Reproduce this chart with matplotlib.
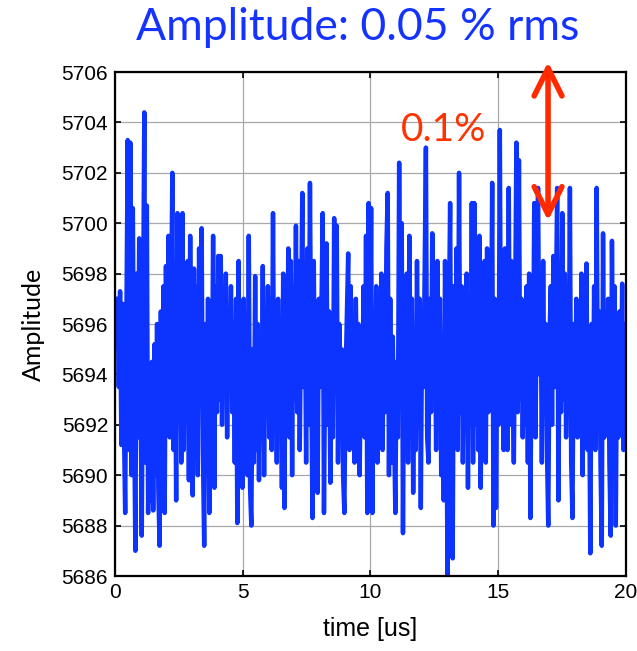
import matplotlib.pyplot as plt
import numpy as np

# 信号数据
amplitude = [
    5697.0, 5693.5, 5697.3, 5691.2, 5696.8, 5692.0, 5688.5, 5696.5, 5703.3, 5691.0,
    5703.2, 5690.0, 5700.6, 5692.5, 5687.0, 5698.0, 5691.5, 5699.4, 5694.0, 5687.6,
    5696.0, 5704.4, 5690.5, 5700.7, 5688.5, 5693.5, 5689.0, 5694.5, 5688.6, 5695.2,
    5690.0, 5696.0, 5689.5, 5687.2, 5696.5, 5691.0, 5697.5, 5688.5, 5698.3, 5692.0,
    5699.5, 5691.5, 5696.0, 5702.0, 5691.0, 5697.5, 5689.0, 5700.4, 5692.5, 5698.0,
    5690.5, 5700.4, 5691.0, 5696.5, 5693.0, 5698.5, 5689.8, 5699.5, 5691.5, 5689.2,
    5698.2, 5692.0, 5697.5, 5690.0, 5699.0, 5693.0, 5699.8, 5691.0, 5687.2, 5696.0,
    5690.5, 5697.0, 5688.5, 5695.5, 5692.0, 5699.5, 5689.5, 5697.5, 5692.5, 5698.7,
    5693.0, 5698.7, 5692.0, 5697.0, 5693.5, 5698.0, 5691.5, 5696.5, 5694.0, 5697.5,
    5692.5, 5696.0, 5690.5, 5697.0, 5688.1, 5698.5, 5691.0, 5696.5, 5689.5, 5697.0,
    5692.5, 5695.5, 5690.0, 5699.5, 5689.5, 5688.0, 5695.0, 5690.5, 5697.9, 5691.0,
    5696.0, 5689.8, 5694.5, 5692.0, 5698.3, 5690.0, 5696.5, 5692.5, 5697.5, 5691.5,
    5697.0, 5691.0, 5700.4, 5692.0, 5694.5, 5690.5, 5697.0, 5692.5, 5695.5, 5689.5,
    5698.0, 5688.7, 5697.5, 5693.0, 5699.0, 5691.5, 5698.5, 5690.0, 5697.5, 5693.0,
    5699.9, 5692.5, 5698.5, 5691.0, 5696.0, 5701.2, 5693.5, 5697.0, 5690.5, 5699.0,
    5692.0, 5701.6, 5694.0, 5688.3, 5698.5, 5692.0, 5696.0, 5689.3, 5697.0, 5693.5,
    5696.5, 5700.4, 5688.5, 5695.0, 5699.2, 5692.0, 5696.5, 5689.7, 5694.5, 5691.5,
    5700.2, 5693.5, 5699.9, 5690.5, 5696.0, 5692.5, 5695.0, 5690.0, 5688.5, 5694.0,
    5696.5, 5698.8, 5691.0, 5697.5, 5692.5, 5695.5, 5690.5, 5697.0, 5693.0, 5696.0,
    5690.0, 5694.5, 5692.0, 5697.5, 5691.5, 5699.5, 5688.5, 5700.8, 5693.0, 5700.6,
    5688.5, 5696.5, 5692.0, 5697.5, 5690.5, 5695.0, 5693.5, 5698.0, 5691.0, 5696.5,
    5692.5, 5699.0, 5701.2, 5690.0, 5697.0, 5690.5, 5695.5, 5692.0, 5688.5, 5694.5,
    5691.5, 5702.4, 5693.0, 5700.0, 5687.7, 5696.0, 5692.0, 5698.0, 5690.5, 5699.5,
    5693.5, 5697.0, 5689.3, 5695.5, 5691.0, 5698.5, 5692.5, 5697.0, 5688.7, 5696.0,
    5693.5, 5698.0, 5703.0, 5691.5, 5690.5, 5697.0, 5692.5, 5699.6, 5694.0, 5696.5,
    5691.0, 5698.5, 5693.5, 5697.0, 5690.0, 5695.5, 5689.0, 5698.5, 5693.0, 5686.0,
    5696.0, 5700.8, 5690.5, 5686.7, 5697.5, 5693.0, 5699.0, 5691.0, 5702.0, 5692.5,
    5697.5, 5690.5, 5695.5, 5693.0, 5698.0, 5689.5, 5697.0, 5692.0, 5700.8, 5690.5,
    5700.8, 5692.0, 5697.5, 5691.0, 5699.5, 5689.5, 5696.0, 5693.0, 5698.5, 5690.5,
    5699.0, 5692.5, 5697.5, 5694.0, 5701.6, 5688.0, 5697.0, 5688.7, 5695.5, 5692.0,
    5703.7, 5692.5, 5697.5, 5691.0, 5699.0, 5693.5, 5691.0, 5701.4, 5692.0, 5698.5,
    5694.0, 5690.5, 5696.5, 5703.2, 5692.5, 5702.5, 5693.0, 5697.0, 5691.5, 5696.0,
    5692.0, 5697.5, 5690.5, 5698.0, 5688.3, 5696.0, 5693.0, 5700.8, 5691.5, 5697.0,
    5701.4, 5694.0, 5697.5, 5690.5, 5698.5, 5692.5, 5696.0, 5691.0, 5688.0, 5695.5,
    5697.5, 5692.0, 5698.7, 5693.5, 5696.5, 5701.4, 5689.0, 5697.0, 5692.5, 5700.4,
    5693.0, 5698.0, 5691.5, 5695.5, 5692.5, 5701.4, 5690.5, 5688.3, 5696.0, 5692.0,
    5697.0, 5691.5, 5696.5, 5692.5, 5698.0, 5690.0, 5697.0, 5693.0, 5698.4, 5691.0,
    5694.5, 5686.9, 5696.0, 5692.0, 5697.5, 5691.0, 5701.4, 5692.5, 5696.5, 5690.5,
    5687.2, 5699.6, 5691.5, 5696.0, 5693.0, 5697.0, 5690.5, 5687.6, 5699.3, 5692.0,
    5697.5, 5688.0, 5695.5, 5691.5, 5696.5, 5692.5, 5697.6, 5691.0, 5696.0, 5693.5,
]
t_start, t_end = 0.1, 20.0  # us
x_ticks = [0, 5, 10, 15, 20]
y_ticks = list(range(5686, 5707, 2))
title_text = "Amplitude: 0.05 % rms"
note_text = "0.1%"
arrow_t = 16.95
arrow_span = (5706.4, 5700.1)

# 采样时间（等间隔）
time = np.linspace(t_start, t_end, len(amplitude))

fig = plt.figure(figsize=(6.37, 6.51), dpi=100)
ax = fig.add_axes([0.1805, 0.1152, 0.8022, 0.7742])

ax.plot(time, amplitude, color="#0d33ff", linewidth=3.2, zorder=2)

ax.set_xlim(0, 20)
ax.set_ylim(5686, 5706)
ax.set_xticks(x_ticks)
ax.set_yticks(y_ticks)
ax.grid(True, color="#a8a8a8", linewidth=0.9, zorder=0)
ax.tick_params(direction="in", top=True, right=True, length=4, width=1.2,
               labelsize=15, pad=5)
for lab in ax.get_xticklabels() + ax.get_yticklabels():
    lab.set_family("Liberation Sans")
for sp in ax.spines.values():
    sp.set_linewidth(1.6)

ax.set_xlabel("time [us]", fontsize=18, labelpad=11, family="Liberation Sans")
ax.set_ylabel("Amplitude", fontsize=18, labelpad=12, family="Lato")

# 标题
fig.text(0.561, 0.958, title_text, color="#1433ff", fontsize=32,
         family="Lato", ha="center", va="center")

# 红色双向箭头和标注
ax.annotate("", xy=(arrow_t, arrow_span[1]), xytext=(arrow_t, arrow_span[0]),
            arrowprops=dict(arrowstyle="<->,head_length=1.0,head_width=0.5",
                            color="#ff2a00", lw=4, mutation_scale=20,
                            shrinkA=0, shrinkB=0),
            annotation_clip=False, zorder=5)
ax.text(14.55, 5703.7, note_text, color="#ff3300", fontsize=28,
        family="Lato", ha="right", va="center")

fig.savefig("out.png", dpi=100)
